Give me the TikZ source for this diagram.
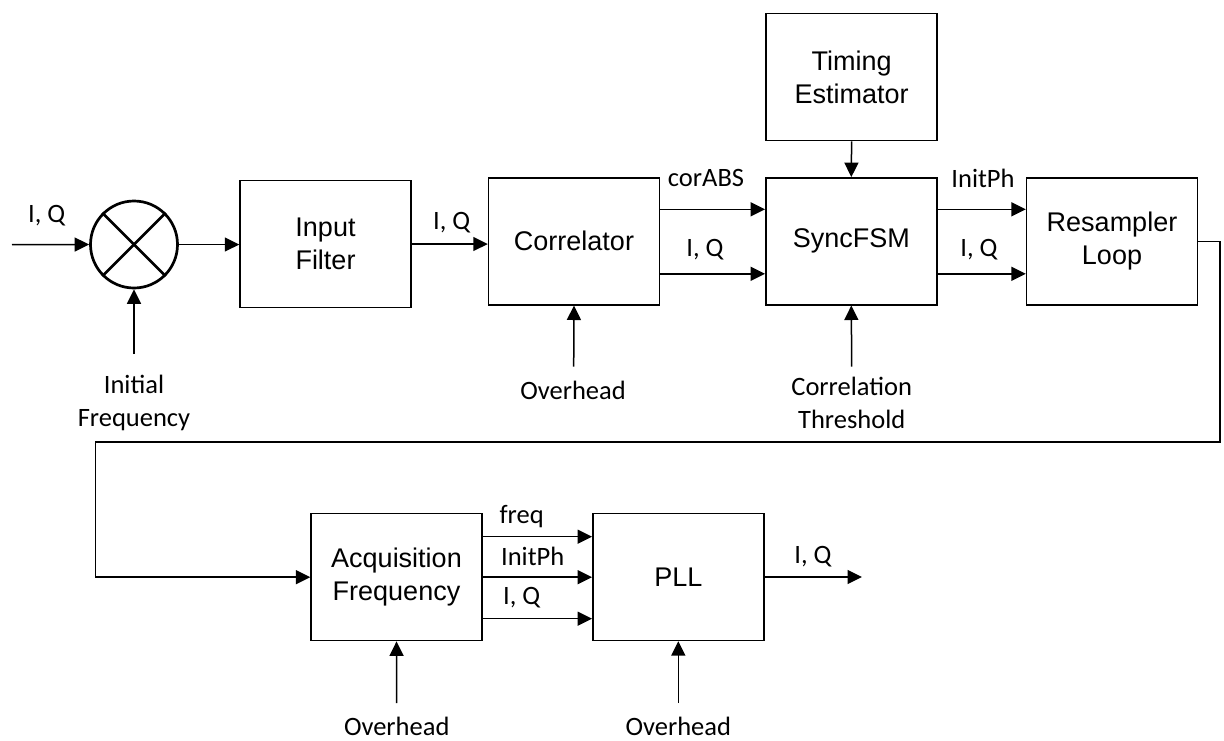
\documentclass[tikz,border=0pt]{standalone}
\usepackage{fontspec}
\setmainfont{Liberation Sans}
\newfontfamily\lblfont{Carlito}
\usetikzlibrary{arrows.meta}
\begin{document}
\begin{tikzpicture}[x=1pt,y=-1pt,
 blk/.style={draw, line width=1.4pt, minimum width=171pt, minimum height=127pt, inner sep=0pt, align=center, font=\fontsize{27}{32.6}\selectfont},
 arr/.style={line width=1.5pt, -{Triangle[length=14.5pt,width=14pt]}},
 lbl/.style={inner sep=0pt, align=center, font=\lblfont\fontsize{26.5}{33}\selectfont}]
\useasboundingbox (0,0) rectangle (1224,740);

% blocks
\node[blk] (filt) at (325.5,244) {Input\\Filter};
\node[blk] (corr) at (574,241.3) {Correlator};
\node[blk] (sync) at (851.3,241.3) {SyncFSM};
\node[blk] (tim) at (851.6,77.2) {Timing\\Estimator};
\node[blk] (res) at (1112,241.3) {Resampler\\Loop};
\node[blk] (acq) at (396.5,577.2) {Acquisition\\Frequency};
\node[blk] (pll) at (678.3,577) {PLL};

% mixer
\node[draw, circle, line width=2.7pt, minimum size=87pt, inner sep=0pt] (mix) at (134,244.5) {};
\draw[line width=2.7pt] (mix.north west) -- (mix.south east);
\draw[line width=2.7pt] (mix.north east) -- (mix.south west);

% free ends
\coordinate (in) at (12,244.7);
\coordinate (fin) at (134,354);
\coordinate (ohc) at (573.7,366.7);
\coordinate (thr) at (851.7,366.7);
\coordinate (oha) at (396.7,703);
\coordinate (ohp) at (678.3,703);
\coordinate (out) at (862,577);
\coordinate (fb1) at (1220,241.3);
\coordinate (fb2) at (1220,442);
\coordinate (fb3) at (95.7,442);
\coordinate (fb4) at (95.7,577.2);

% connectors
\draw[arr] (in) -- (mix.west);
\draw[arr] (fin) -- (mix.south);
\draw[arr] (mix.east) -- (filt.west |- mix.east);
\draw[arr] (filt.east) -- (corr.west |- filt.east);
\draw[arr] ([yshift=32pt]corr.east) -- ([yshift=32pt]sync.west);
\draw[arr] ([yshift=-32.5pt]corr.east) -- ([yshift=-32.5pt]sync.west);
\draw[arr] (tim.south) -- (sync.north);
\draw[arr] ([yshift=32pt]sync.east) -- ([yshift=32pt]res.west);
\draw[arr] ([yshift=-32.5pt]sync.east) -- ([yshift=-32.5pt]res.west);
\draw[arr] (ohc) -- (corr.south);
\draw[arr] (thr) -- (sync.south);
\draw[arr] (res.east) -- (fb1) -- (fb2) -- (fb3) -- (fb4) -- (acq.west);
\draw[arr] ([yshift=40.5pt]acq.east) -- ([yshift=40.5pt]acq.east -| pll.west);
\draw[arr] (acq.east) -- (acq.east -| pll.west);
\draw[arr] ([yshift=-41.5pt]acq.east) -- ([yshift=-41.5pt]acq.east -| pll.west);
\draw[arr] (pll.east) -- (out);
\draw[arr] (oha) -- (acq.south);
\draw[arr] (ohp) -- (pll.south);

% labels
\node[lbl] (l1) at (46.7,216) {I, Q};
\node[lbl] (l2) at (451.7,223) {I, Q};
\node[lbl] (l3) at (706,178) {corABS};
\node[lbl] (l4) at (705,250) {I, Q};
\node[lbl] (l5) at (983,178) {InitPh};
\node[lbl] (l6) at (979,250) {I, Q};
\node[lbl] (l7) at (134,403) {Initial\\Frequency};
\node[lbl] (l8) at (573,390) {Overhead};
\node[lbl] (l9) at (851.7,403) {Correlation\\Threshold};
\node[lbl] (l10) at (521.7,516.7) {freq};
\node[lbl] (l11) at (532.7,556) {InitPh};
\node[lbl] (l12) at (521.7,598) {I, Q};
\node[lbl] (l13) at (813,556.7) {I, Q};
\node[lbl] (l14) at (396.7,726) {Overhead};
\node[lbl] (l15) at (678.3,726) {Overhead};
\end{tikzpicture}
\end{document}
